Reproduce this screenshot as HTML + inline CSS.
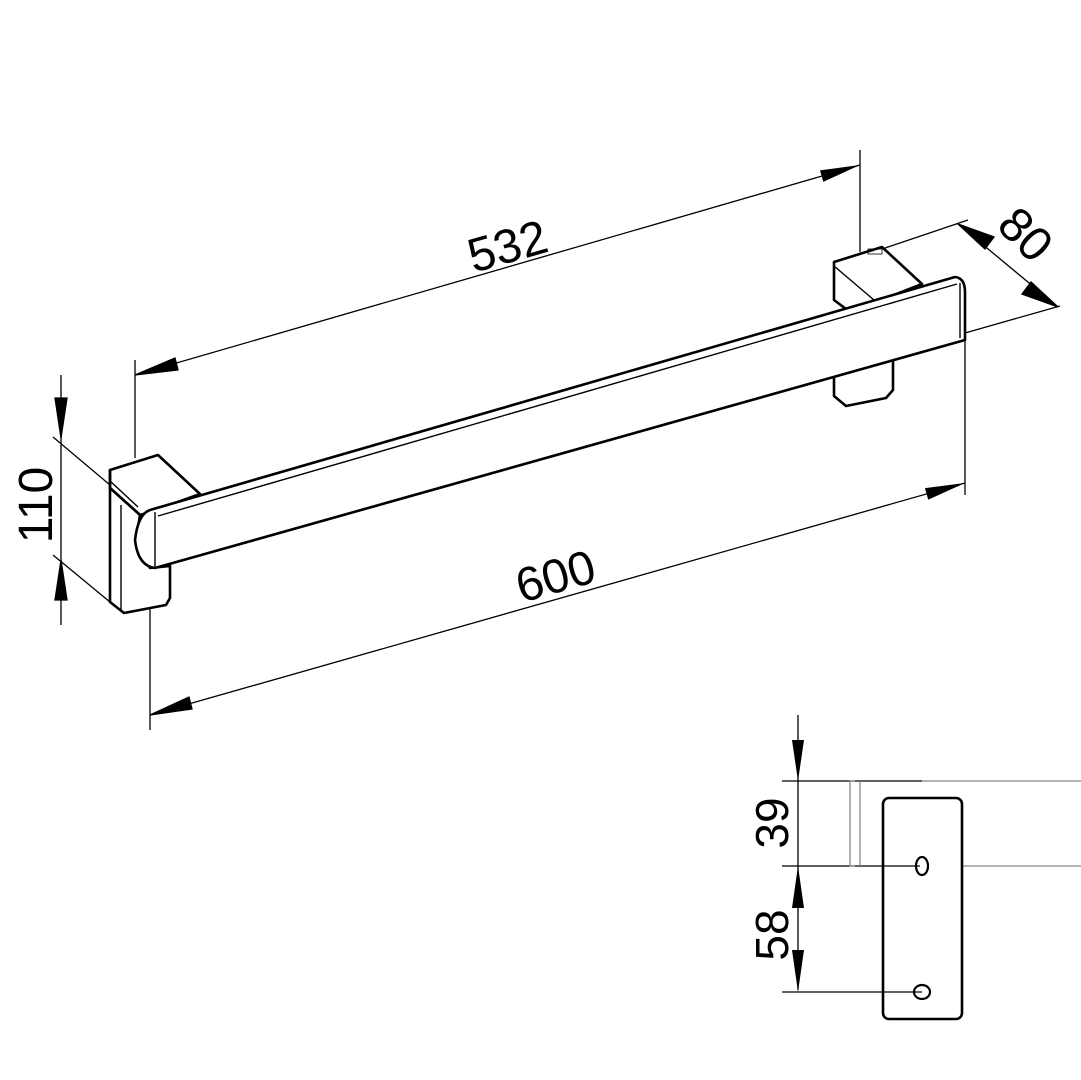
<!DOCTYPE html>
<html><head><style>html,body{margin:0;background:#fff}svg{display:block}text{font-family:"Liberation Sans",sans-serif;fill:#000}</style></head><body>
<svg width="1081" height="1080" viewBox="0 0 1081 1080" xmlns="http://www.w3.org/2000/svg">
<defs>
<marker id="a" viewBox="0 0 40 12" refX="40" refY="6" markerWidth="40" markerHeight="12" markerUnits="userSpaceOnUse" orient="auto"><path d="M0,0 L40,6 L0,12z" fill="#000"/></marker>
</defs>
<g stroke="#000" stroke-width="1.3" fill="none">
<line x1="135" y1="360" x2="135" y2="458"/>
<line x1="860" y1="150" x2="860" y2="252"/>
<line x1="135" y1="375" x2="860" y2="165" marker-end="url(#a)"/>
<path d="M135,375 L175,358 L178,370z" fill="#000"/>
<line x1="150" y1="520" x2="150" y2="730"/>
<line x1="965" y1="290" x2="965" y2="495"/>
<line x1="150" y1="715" x2="965" y2="483" marker-end="url(#a)"/>
<path d="M150,715 L189,697 L192,709z" fill="#000"/>
<line x1="885" y1="248" x2="968" y2="220"/>
<line x1="965" y1="333" x2="1060" y2="306"/>
<line x1="958" y1="224" x2="1058" y2="307"/>
<path d="M958,224 L994,237 L985,249z" fill="#000"/>
<path d="M1058,307 L1022,294 L1031,282z" fill="#000"/>
<line x1="61" y1="375" x2="61" y2="625"/>
<line x1="53" y1="437" x2="110" y2="485"/>
<line x1="53" y1="555" x2="110" y2="602"/>
<path d="M61,438 L55,398 L67,398z" fill="#000"/>
<path d="M61,560 L55,600 L67,600z" fill="#000"/>
</g>
<g stroke="#000" stroke-width="2.6" fill="#fff" stroke-linejoin="round">
<path d="M834,375 L834,396 L846,406 L886,398 L893,390 L893,360z"/>
<path d="M834,300 L834,262 L882,247 L922,284 L850,312z"/>
<line x1="834" y1="266" x2="874" y2="300" stroke-width="1.4"/>
<path d="M110,470 L158,455 L200,494 L150,512 L140,515 L110,488z"/>
<path d="M110,470 L110,602 L124,613 L166,605 L170,598 L170,566 L150,568 L136,540 L140,515 L110,488z"/>
<line x1="110" y1="481" x2="138" y2="507" stroke-width="1.4"/>
<line x1="121" y1="505" x2="121" y2="612" stroke-width="1.4"/>
<path d="M150,510 L955,277 Q965,278 965,292 L965,340 L155,568 Q138,566 135,540 Q138,514 150,510z"/>
<line x1="158" y1="516" x2="957" y2="284" stroke-width="1.4"/>
<line x1="155" y1="512" x2="155" y2="568" stroke-width="1.4"/>
<line x1="960" y1="283" x2="960" y2="338" stroke-width="1.4"/>
</g>
<rect x="868" y="249" width="14" height="5" fill="none" stroke="#000" stroke-width="0.8"/>
<text font-size="48" transform="translate(512,262) rotate(-16)" text-anchor="middle">532</text>
<text font-size="48" transform="translate(560,592) rotate(-16)" text-anchor="middle">600</text>
<text font-size="48" transform="translate(1014,246) rotate(45)" text-anchor="middle">80</text>
<text font-size="48" transform="translate(52,505) rotate(-90)" text-anchor="middle">110</text>
<g stroke-width="1.3" fill="none">
<line x1="782" y1="781" x2="922" y2="781" stroke="#000"/>
<line x1="922" y1="781" x2="1081" y2="781" stroke="#888"/>
<line x1="782" y1="866" x2="920" y2="866" stroke="#000"/>
<line x1="962" y1="866" x2="1081" y2="866" stroke="#888"/>
<line x1="782" y1="992" x2="922" y2="992" stroke="#000"/>
<path d="M855,781 L850,781 L850,866 L855,866 M860,781 L860,866" stroke="#888"/>
<line x1="798" y1="715" x2="798" y2="990" stroke="#000"/>
</g>
<path d="M798,781 L792,740 L804,740z M798,866 L792,908 L804,908z M798,992 L792,950 L804,950z" fill="#000"/>
<rect x="883" y="798" width="79" height="221" rx="6" fill="none" stroke="#000" stroke-width="2.6"/>
<ellipse cx="922" cy="866" rx="6" ry="9" fill="none" stroke="#000" stroke-width="2.2"/>
<ellipse cx="922" cy="992" rx="8" ry="7" fill="none" stroke="#000" stroke-width="2.2"/>
<text font-size="46" transform="translate(788,823) rotate(-90)" text-anchor="middle">39</text>
<text font-size="46" transform="translate(788,935) rotate(-90)" text-anchor="middle">58</text>
</svg>
</body></html>
